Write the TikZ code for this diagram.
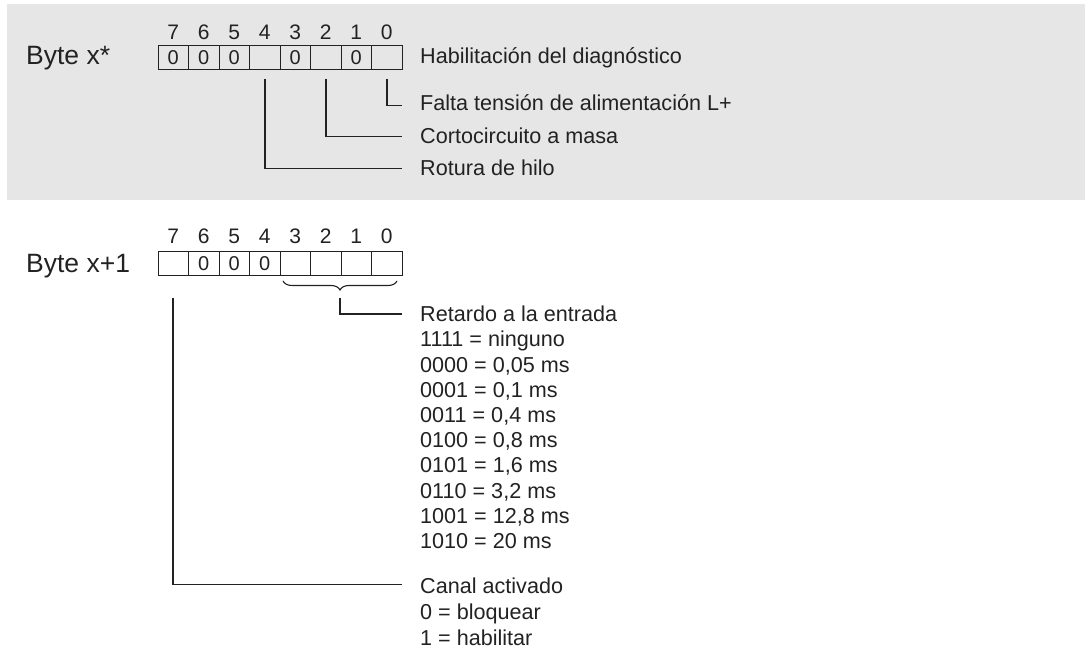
\documentclass[tikz,border=0pt]{standalone}
\usepackage{fontspec}
\setmainfont{Liberation Sans}
\usetikzlibrary{decorations.pathreplacing}
\definecolor{panel}{HTML}{E6E6E6}
\definecolor{ink}{HTML}{222222}
\tikzset{
  cell/.style={draw=ink, line width=1pt, minimum width=30.5pt, minimum height=24pt, inner sep=0pt, font=\fontsize{20}{20}\selectfont, text=ink},
  bitnum/.style={inner sep=0pt, font=\fontsize{21}{21}\selectfont, text=ink},
  lbl/.style={anchor=base west, inner sep=0pt, font=\fontsize{21.6}{22}\selectfont, text=ink},
  bytelbl/.style={anchor=base west, inner sep=0pt, font=\fontsize{26.5}{27}\selectfont, text=ink},
  leader/.style={draw=ink, line width=1.8pt},
}
\begin{document}
\begin{tikzpicture}[x=1pt,y=-1pt]
\useasboundingbox (0,0) rectangle (1085,652);
\fill[panel] (7,4) rectangle (1085,200);
% Byte x*
\node[bytelbl] (bx) at (26,65) {Byte x*};
\foreach \b/\v in {7/0,6/0,5/0,4/,3/0,2/,1/0,0/} {
  \node[cell] (a\b) at ({158+30.5*(7-\b)+15.25},58) {\v};
  \node[bitnum] (na\b) at ({158+30.5*(7-\b)+15.25},32) {\b};
}
\node[lbl] (diag) at (420,63.5) {Habilitación del diagnóstico};
\node[lbl] (falta) at (420,111) {Falta tensión de alimentación L+};
\node[lbl] (corto) at (420,144) {Cortocircuito a masa};
\node[lbl] (rotura) at (420,176) {Rotura de hilo};
\coordinate (ef) at ([xshift=-18pt,yshift=5.5pt]falta.base west);
\coordinate (ec) at ([xshift=-18pt,yshift=7.5pt]corto.base west);
\coordinate (er) at ([xshift=-18pt,yshift=7.5pt]rotura.base west);
\draw[leader] ([yshift=-9pt]a0.south) |- (ef);
\draw[leader] ([yshift=-9pt]a2.south) |- (ec);
\draw[leader] ([yshift=-9pt]a4.south) |- (er);
% Byte x+1
\node[bytelbl] (by) at (26,272.5) {Byte x+1};
\foreach \b/\v in {7/,6/0,5/0,4/0,3/,2/,1/,0/} {
  \node[cell] (b\b) at ({158+30.5*(7-\b)+15.25},264) {\v};
  \node[bitnum] (nb\b) at ({158+30.5*(7-\b)+15.25},236) {\b};
}
\draw[ink, line width=1.1pt, decorate, decoration={brace, amplitude=9pt}] (397,281) -- (283,281);
\coordinate (bt) at (340,298);
\node[lbl] (ret) at (420,321.7) {Retardo a la entrada};
\foreach \i/\t in {1/{1111 = ninguno},2/{0000 = 0,05 ms},3/{0001 = 0,1 ms},4/{0011 = 0,4 ms},5/{0100 = 0,8 ms},6/{0101 = 1,6 ms},7/{0110 = 3,2 ms},8/{1001 = 12,8 ms},9/{1010 = 20 ms}} {
  \node[lbl] (r\i) at (420,{321.7+25.2*\i}) {\t};
}
\coordinate (eret) at ([xshift=-18pt,yshift=8pt]ret.base west);
\draw[leader] (bt) |- (eret);
\node[lbl] (canal) at (420,593) {Canal activado};
\node[lbl] (c1) at (420,619) {0 = bloquear};
\node[lbl] (c2) at (420,645) {1 = habilitar};
\coordinate (ecan) at ([xshift=-18pt,yshift=8.5pt]canal.base west);
\draw[leader] ([yshift=-22pt]b7.south) |- (ecan);
\end{tikzpicture}
\end{document}
